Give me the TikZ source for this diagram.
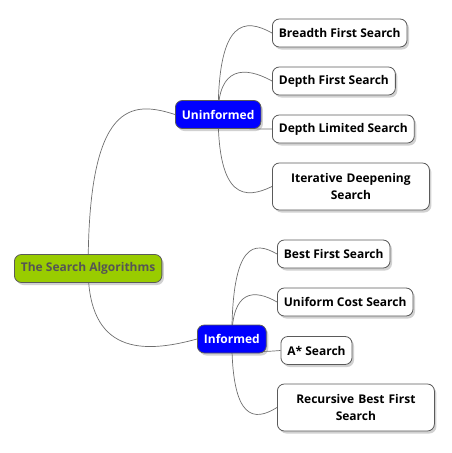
\documentclass[tikz,border=0pt]{standalone}
\usepackage{fontspec}
\setmainfont{Open Sans}
\usetikzlibrary{calc,shadows}
\definecolor{rootgreen}{RGB}{153,204,0}
\definecolor{roottext}{RGB}{85,85,85}
\definecolor{catblue}{RGB}{0,0,255}
\definecolor{edgegray}{RGB}{90,90,90}
\definecolor{linegray}{RGB}{110,110,110}
\pgfdeclarelayer{background}
\pgfsetlayers{background,main}
\newcommand\mmcurve[3]{\draw[conn] (#1.center) .. controls ($(#1.center |- #2.west)+(0,#3)$) and ($(#1.center |- #2.west)!0.5!(#2.west)+(0,#3)$) .. (#2.west);}
\begin{document}
\begin{tikzpicture}[x=1pt,y=-1pt,
  box/.style={draw=edgegray, line width=0.8pt, rounded corners=7pt,
    font=\bfseries\fontsize{12}{17}\selectfont, inner xsep=6.5pt, inner ysep=0pt,
    minimum height=28pt, anchor=west,
    drop shadow={shadow xshift=2pt, shadow yshift=-2.5pt, opacity=0.3, fill=black!60}},
  rootbox/.style={box, fill=rootgreen, text=roottext},
  catbox/.style={box, fill=catblue, text=white},
  leaf/.style={box, fill=white, text=black},
  wideleaf/.style={leaf, text width=144pt, align=center, minimum height=47pt},
  conn/.style={draw=linegray, line width=0.7pt}]
\useasboundingbox (0,0) rectangle (451,453);
\node[rootbox] (root) at (14,268.5) {The Search Algorithms};
\node[catbox] (un) at (175,114.5) {Uninformed};
\node[catbox] (inf) at (197,339) {Informed};
\node[leaf] (bfs) at (272,33) {Breadth First Search};
\node[leaf] (dfs) at (272,81) {Depth First Search};
\node[leaf] (dls) at (272,129) {Depth Limited Search};
\node[wideleaf] (ids) at (272,186.5) {Iterative Deepening\\Search};
\node[leaf] (best) at (277,254) {Best First Search};
\node[leaf] (ucs) at (277,302) {Uniform Cost Search};
\node[leaf] (astar) at (280.5,350.5) {A* Search};
\node[wideleaf] (rbfs) at (277,407.5) {Recursive Best First\\Search};
\begin{pgfonlayer}{background}
\mmcurve{root}{un}{-14}
\mmcurve{root}{inf}{15}
\mmcurve{un}{bfs}{-15}
\mmcurve{un}{dfs}{-15}
\mmcurve{un}{dls}{0}
\mmcurve{un}{ids}{13}
\mmcurve{inf}{best}{-13}
\mmcurve{inf}{ucs}{-13}
\mmcurve{inf}{astar}{2}
\mmcurve{inf}{rbfs}{14}
\end{pgfonlayer}
\end{tikzpicture}
\end{document}
